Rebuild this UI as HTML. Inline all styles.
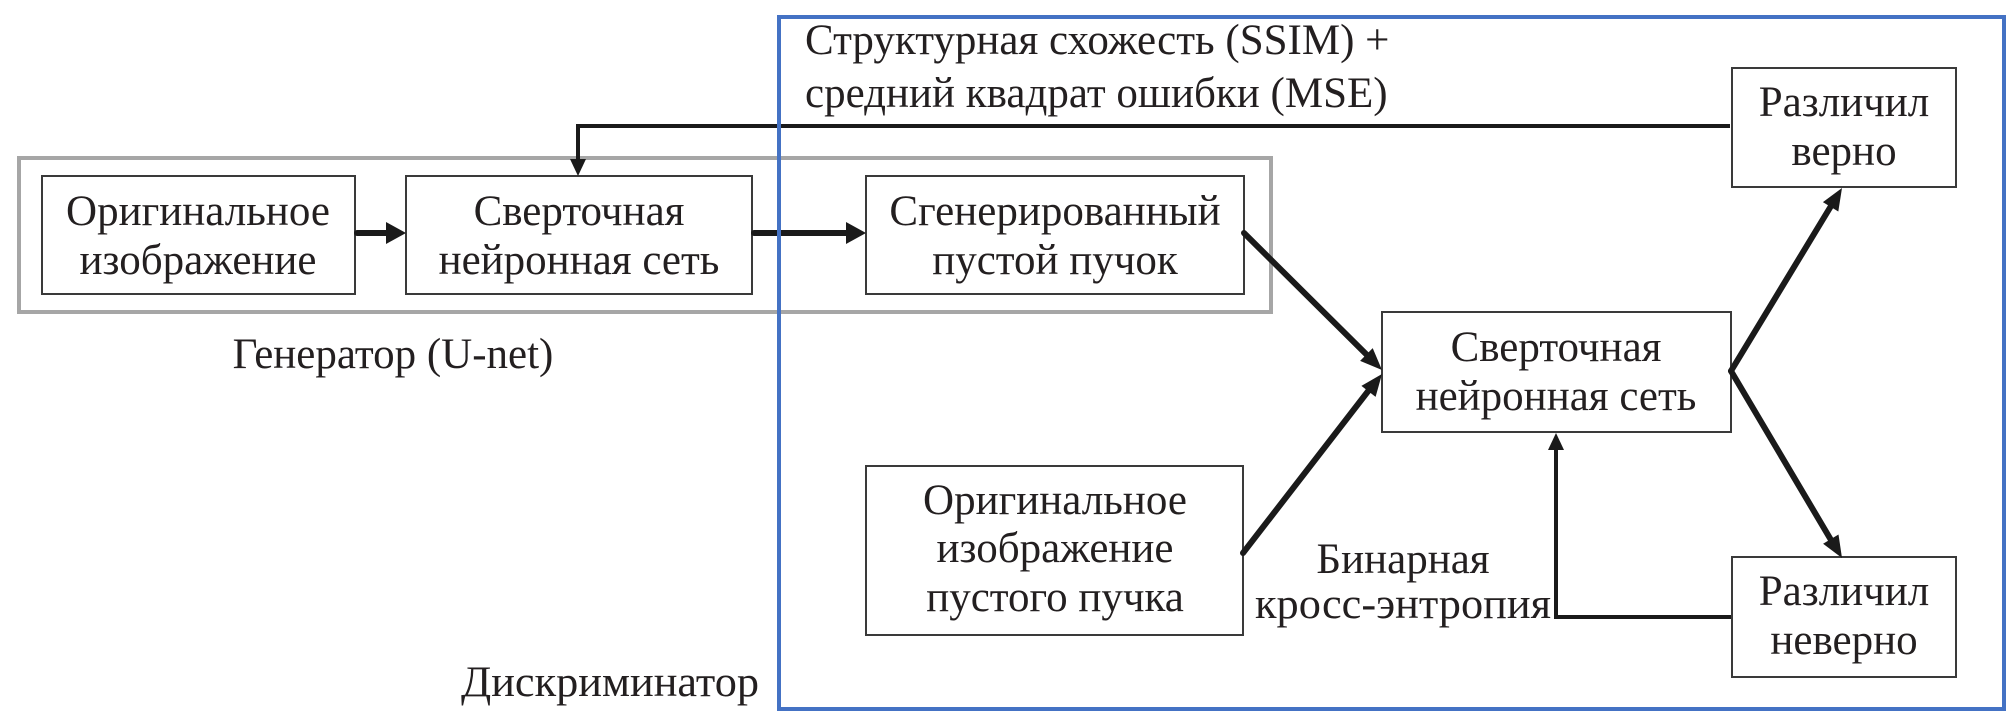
<!DOCTYPE html>
<html>
<head>
<meta charset="utf-8">
<style>
  html, body { margin:0; padding:0; background:#ffffff; }
  body { width:2013px; height:720px; overflow:hidden; }
  svg { display:block; }
  text { font-family: "Liberation Serif", "Times New Roman", serif; font-size:43px; fill:#231f20; }
</style>
</head>
<body>
<svg width="2013" height="720" viewBox="0 0 2013 720" xmlns="http://www.w3.org/2000/svg">
  <rect x="0" y="0" width="2013" height="720" fill="#ffffff"/>

  <!-- Generator gray frame -->
  <rect x="19" y="158" width="1252" height="154" fill="none" stroke="#a6a6a6" stroke-width="4"/>

  <!-- Boxes -->
  <g fill="#ffffff" stroke="#3a3a3a" stroke-width="2">
    <rect x="42" y="176" width="313" height="118"/>
    <rect x="406" y="176" width="346" height="118"/>
    <rect x="866" y="176" width="378" height="118"/>
    <rect x="1382" y="312" width="349" height="120"/>
    <rect x="1732" y="68" width="224" height="119"/>
    <rect x="1732" y="557" width="224" height="120"/>
    <rect x="866" y="466" width="377" height="169"/>
  </g>

  <!-- Connectors -->
  <g stroke="#1a1a1a" fill="none" stroke-linecap="round" stroke-linejoin="miter">
    <line x1="357" y1="233" x2="390" y2="233" stroke-width="6"/>
    <line x1="754" y1="233" x2="850" y2="233" stroke-width="6"/>
    <polyline points="1730,126 578,126 578,162" stroke-width="4" stroke-linecap="butt"/>
    <line x1="1244" y1="233" x2="1368" y2="356" stroke-width="6"/>
    <line x1="1243" y1="553" x2="1369" y2="390" stroke-width="6"/>
    <line x1="1731" y1="371" x2="1831" y2="206" stroke-width="6"/>
    <line x1="1731" y1="371" x2="1831" y2="540" stroke-width="6"/>
    <polyline points="1731,617 1556,617 1556,448" stroke-width="4" stroke-linecap="butt"/>
  </g>

  <!-- Arrowheads -->
  <g fill="#1a1a1a" stroke="none">
    <polygon points="386,222 406,233 386,244"/>
    <polygon points="846,222 866,233 846,244"/>
    <polygon points="570,159 586,159 578,176"/>
    <polygon points="1360.1,360.9 1372.7,348.1 1382,370"/>
    <polygon points="1375.6,396.9 1361.4,385.9 1382,374"/>
    <polygon points="1838.3,211.5 1822.9,202.1 1842,188"/>
    <polygon points="1823.1,543.7 1838.5,534.5 1842,558"/>
    <polygon points="1548,450 1564,450 1556,433"/>
  </g>

  <!-- Discriminator blue frame -->
  <rect x="779" y="17" width="1225" height="692" fill="none" stroke="#4472c4" stroke-width="4"/>

  <!-- Box texts -->
  <g text-anchor="middle">
    <text x="198" y="225">Оригинальное</text>
    <text x="198" y="274">изображение</text>

    <text x="579" y="225">Сверточная</text>
    <text x="579" y="274">нейронная сеть</text>

    <text x="1055" y="225">Сгенерированный</text>
    <text x="1055" y="274">пустой пучок</text>

    <text x="1556" y="361">Сверточная</text>
    <text x="1556" y="410">нейронная сеть</text>

    <text x="1844" y="116">Различил</text>
    <text x="1844" y="165">верно</text>

    <text x="1844" y="605">Различил</text>
    <text x="1844" y="654">неверно</text>

    <text x="1055" y="514">Оригинальное</text>
    <text x="1055" y="562">изображение</text>
    <text x="1055" y="611">пустого пучка</text>

    <text x="393" y="368">Генератор (U-net)</text>

    <text x="1403" y="573">Бинарная</text>
    <text x="1403" y="618" textLength="296" lengthAdjust="spacingAndGlyphs">кросс-энтропия</text>
  </g>

  <!-- Free labels -->
  <text x="805" y="54">Структурная схожесть (SSIM) +</text>
  <text x="805" y="107">средний квадрат ошибки (MSE)</text>
  <text x="461" y="696" textLength="298" lengthAdjust="spacingAndGlyphs">Дискриминатор</text>
</svg>
</body>
</html>
